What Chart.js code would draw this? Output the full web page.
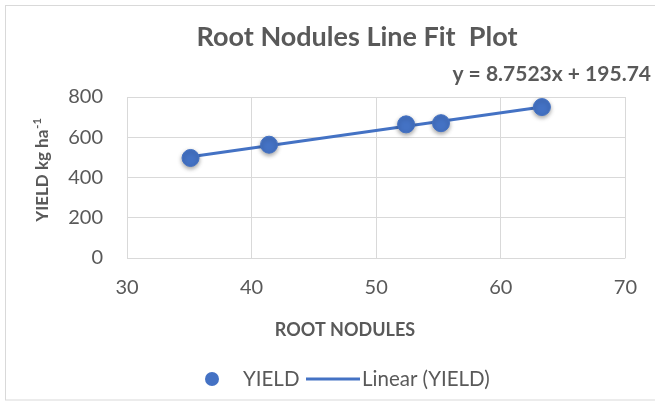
<!DOCTYPE html>
<html>
<head>
<meta charset="utf-8">
<script src="https://cdn.jsdelivr.net/npm/chart.js@4"></script>
<style>
  body { margin: 0; background: #fff; }
  #wrap { width: 655px; height: 402px; position: relative; }
</style>
</head>
<body>
<div id="wrap"><canvas id="myChart" width="655" height="402"></canvas></div>
<script>
const rootNodules = [35.1, 41.4, 52.4, 55.2, 63.3];
const yieldValues = [497, 563, 664, 670, 750];
const trendX = [35.1, 63.3];
const trendY = [503, 750];
const xTicks = [30, 40, 50, 60, 70];
const yTicks = [0, 200, 400, 600, 800];
const chartTitle = 'Root Nodules Line Fit  Plot';
const equation = 'y = 8.7523x + 195.74';
const xTitle = 'ROOT NODULES';
const yTitle = 'YIELD kg ha';
const yTitleSup = '-1';

const blue = '#4472C4';
const grey = '#595959';
const fontName = 'Lato, "Open Sans", sans-serif';

// frame, titles, equation label and legend
const extras = {
    id: 'extras',
    beforeDraw(chart) {
        const ctx = chart.ctx;
        ctx.save();
        ctx.fillStyle = '#fff';
        ctx.fillRect(0, 0, chart.width, chart.height);
        ctx.strokeStyle = '#D9D9D9';
        ctx.lineWidth = 1;
        ctx.strokeRect(5.5, 5.5, chart.width + 10, 394.5);
        ctx.restore();
    },
    beforeDatasetDraw(chart, args) {
        if (args.index === 0) {
            chart.ctx.save();
            chart.ctx.shadowColor = 'rgba(0,0,0,0.35)';
            chart.ctx.shadowBlur = 4;
            chart.ctx.shadowOffsetY = 2;
        }
    },
    afterDatasetDraw(chart, args) {
        if (args.index === 0) chart.ctx.restore();
    },
    afterDraw(chart) {
        const ctx = chart.ctx;
        ctx.save();
        ctx.fillStyle = grey;
        ctx.textBaseline = 'middle';

        ctx.font = 'bold 27px ' + fontName;
        ctx.textAlign = 'center';
        ctx.fillText(chartTitle, 357, 37);

        ctx.font = 'bold 21px ' + fontName;
        ctx.textAlign = 'right';
        ctx.fillText(equation, 651, 74);

        ctx.font = 'bold 18px ' + fontName;
        ctx.textAlign = 'center';
        ctx.fillText(xTitle, 345, 330);

        // y title with superscript
        ctx.save();
        ctx.translate(43, 170);
        ctx.rotate(-Math.PI / 2);
        ctx.font = 'bold 17px ' + fontName;
        const w1 = ctx.measureText(yTitle).width;
        ctx.font = 'bold 11px ' + fontName;
        const w2 = ctx.measureText(yTitleSup).width;
        const start = -(w1 + w2 + 1) / 2;
        ctx.textAlign = 'left';
        ctx.font = 'bold 17px ' + fontName;
        ctx.fillText(yTitle, start, 0);
        ctx.font = 'bold 11px ' + fontName;
        ctx.fillText(yTitleSup, start + w1 + 1, -6);
        ctx.restore();

        // legend
        const ly = 379;
        ctx.fillStyle = blue;
        ctx.beginPath();
        ctx.arc(212, ly, 7, 0, Math.PI * 2);
        ctx.fill();
        ctx.fillStyle = grey;
        ctx.font = '20.5px ' + fontName;
        ctx.textAlign = 'left';
        ctx.fillText(chart.data.datasets[0].label, 243, ly);
        ctx.strokeStyle = blue;
        ctx.lineWidth = 3;
        ctx.beginPath();
        ctx.moveTo(306, ly);
        ctx.lineTo(360, ly);
        ctx.stroke();
        ctx.fillText(chart.data.datasets[1].label, 362, ly);
        ctx.restore();
    }
};

const ctx = document.getElementById('myChart').getContext('2d');
const myChart = new Chart(ctx, {
    type: 'scatter',
    data: {
        datasets: [{
            label: 'YIELD',
            data: rootNodules.map((x, i) => ({ x: x, y: yieldValues[i] })),
            backgroundColor: blue,
            borderColor: blue,
            pointRadius: 8.5,
            pointHoverRadius: 8.5,
            order: 0
        }, {
            label: 'Linear (YIELD)',
            type: 'line',
            data: trendX.map((x, i) => ({ x: x, y: trendY[i] })),
            borderColor: blue,
            borderWidth: 3,
            pointRadius: 0,
            fill: false,
            order: 1
        }]
    },
    options: {
        responsive: false,
        animation: false,
        layout: { padding: { left: 33, right: 26, top: 97, bottom: 64 } },
        plugins: {
            legend: { display: false },
            tooltip: { enabled: false },
            title: { display: false }
        },
        scales: {
            x: {
                type: 'linear',
                min: 30,
                max: 70,
                afterBuildTicks: s => { s.ticks = xTicks.map(v => ({ value: v })); },
                afterFit: s => { s.height = 80; },
                grid: { color: '#D9D9D9', drawTicks: false },
                border: { display: false },
                ticks: { color: grey, padding: 18, font: { family: fontName, size: 20 } }
            },
            y: {
                min: 0,
                max: 800,
                afterBuildTicks: s => { s.ticks = yTicks.map(v => ({ value: v })); },
                afterFit: s => { s.width = 94; },
                grid: { color: '#D9D9D9', drawTicks: false },
                border: { display: false },
                ticks: { color: grey, padding: 24, font: { family: fontName, size: 20 } }
            }
        }
    },
    plugins: [extras]
});
</script>
</body>
</html>
